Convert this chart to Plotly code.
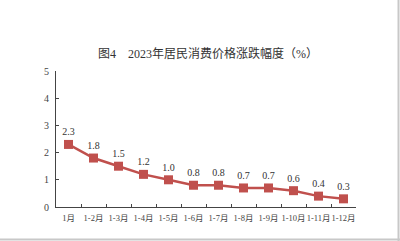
import plotly.graph_objects as go

categories = ["1月", "1-2月", "1-3月", "1-4月", "1-5月", "1-6月",
              "1-7月", "1-8月", "1-9月", "1-10月", "1-11月", "1-12月"]
values = [2.3, 1.8, 1.5, 1.2, 1.0, 0.8, 0.8, 0.7, 0.7, 0.6, 0.4, 0.3]
labels = ["2.3", "1.8", "1.5", "1.2", "1.0", "0.8", "0.8", "0.7", "0.7", "0.6", "0.4", "0.3"]
title = "图4　2023年居民消费价格涨跌幅度（%）"

FONT = "Liberation Serif, Noto Sans CJK SC, serif"
RED = "#C0504D"

fig = go.Figure()
fig.add_trace(go.Scatter(
    x=categories, y=values, mode="lines+markers+text",
    line=dict(color=RED, width=2.5),
    marker=dict(symbol="square", size=9, color=RED),
    text=labels, textposition="top center",
    textfont=dict(family=FONT, size=10, color="#333"),
    cliponaxis=False, hoverinfo="skip"))

fig.update_layout(
    width=400, height=241,
    margin=dict(l=56, r=44, t=71, b=34, autoexpand=False),
    paper_bgcolor="white", plot_bgcolor="white",
    showlegend=False,
    font=dict(family=FONT, size=10, color="#444"),
    title=dict(text=title, x=0.52, xanchor="center", y=0.775, yanchor="middle",
               font=dict(family=FONT, size=12, color="#333")),
    xaxis=dict(showline=True, linecolor="#444", linewidth=1, showgrid=False,
               ticks="inside", ticklen=3, tickcolor="#444", tickson="boundaries",
               tickangle=0, automargin=False, ticklabelstandoff=3,
               tickfont=dict(size=8.5), range=[-0.5, 11.5]),
    yaxis=dict(showline=True, linecolor="#444", linewidth=1, showgrid=False,
               ticks="inside", ticklen=3, tickcolor="#444", range=[0, 5], dtick=1,
               zeroline=False, automargin=False, ticklabelstandoff=4,
               tickfont=dict(size=10)),
    shapes=[
        dict(type="line", xref="paper", yref="paper", x0=1.1417, x1=1.1417, y0=-0.25, y1=1.6,
             line=dict(color="#c8c8c8", width=2)),
        dict(type="line", xref="paper", yref="paper", x0=-0.3, x1=1.15, y0=-0.239, y1=-0.239,
             line=dict(color="#c8c8c8", width=2)),
    ],
)

fig.write_html("out.html")
